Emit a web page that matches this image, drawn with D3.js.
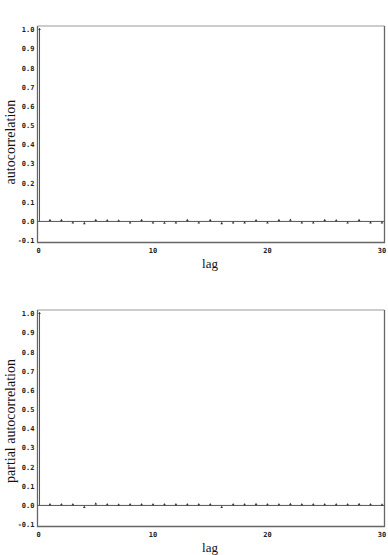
<!DOCTYPE html>
<html>
<head>
<meta charset="utf-8">
<script src="https://cdn.jsdelivr.net/npm/d3@7"></script>
<style>
  body { margin: 0; background: #fff; }
  svg { display: block; }
  .tick-lbl { font-family: "DejaVu Sans Mono", monospace; font-weight: bold; font-size: 7px; fill: #222; }
  .ttl { font-family: "Liberation Serif", "DejaVu Serif", serif; font-size: 13px; fill: #111; }
  .ytl { font-size: 14px; }
</style>
</head>
<body>
<script>
// lags 0..30
var lags = d3.range(0, 31);
var acfValues = [1.0, 0.003, 0.004, -0.002, -0.005, 0.004, 0.002, 0.001, -0.002, 0.004, -0.002,
  -0.003, -0.002, 0.004, -0.002, 0.003, -0.005, -0.002, -0.002, 0.002, -0.002,
  0.004, 0.005, -0.002, -0.002, 0.003, 0.002, -0.002, 0.004, -0.001, -0.002];
var pacfValues = [1.0, 0.002, 0.002, 0.002, -0.004, 0.006, 0.002, 0.001, 0.002, 0.002, 0.002,
  0.002, 0.002, 0.002, 0.002, 0.002, -0.004, 0.002, 0.002, 0.003, 0.002,
  0.002, 0.003, 0.002, 0.002, 0.002, 0.002, 0.002, 0.003, 0.002, 0.001];
var yTicks = [-0.1, 0.0, 0.1, 0.2, 0.3, 0.4, 0.5, 0.6, 0.7, 0.8, 0.9, 1.0];
var xTicks = [0, 10, 20, 30];

var svg = d3.select('body').append('svg').attr('width', 388).attr('height', 555);

function drawPanel(values, top, yTitle, titleY) {
  var left = 37.5, right = 384.5, bottom = top + 216.5;
  var x = d3.scaleLinear().domain([-0.09, 30.22]).range([left, right]);
  var y = d3.scaleLinear().domain([-0.11, 1.02]).range([bottom, top]);
  var g = svg.append('g');

  // frame
  g.append('line').attr('x1', left).attr('x2', right).attr('y1', top).attr('y2', top)
    .attr('stroke', '#bbb').attr('stroke-width', 1.5);
  g.append('path')
    .attr('d', 'M' + left + ',' + top + 'V' + bottom + 'H' + right + 'V' + top)
    .attr('fill', 'none').attr('stroke', '#666').attr('stroke-width', 1.3);

  // zero line
  g.append('line').attr('x1', left).attr('x2', right).attr('y1', y(0)).attr('y2', y(0))
    .attr('stroke', '#555').attr('stroke-width', 1);

  // spikes
  g.selectAll('line.spike').data(lags).enter().append('line')
    .attr('class', 'spike')
    .attr('x1', function(d){ return x(d) + (d === 0 ? 1 : 0); })
    .attr('x2', function(d){ return x(d) + (d === 0 ? 1 : 0); })
    .attr('y1', y(0))
    .attr('y2', function(d, i){ return y(values[i]); })
    .attr('stroke', '#555').attr('stroke-width', 1);

  // markers
  g.selectAll('path.mk').data(lags).enter().append('path')
    .attr('class', 'mk')
    .attr('d', d3.symbol().type(d3.symbolTriangle).size(3))
    .attr('transform', function(d, i){ return 'translate(' + (x(d) + (d === 0 ? 1 : 0)) + ',' + (y(values[i]) + (values[i] < 0 ? 1 : -0.5)) + ')'; })
    .attr('fill', '#333');

  // y tick labels
  g.selectAll('text.yl').data(yTicks).enter().append('text')
    .attr('class', 'tick-lbl')
    .attr('x', 34.5).attr('y', function(d){ return y(d); })
    .attr('dy', '0.35em').attr('text-anchor', 'end')
    .text(function(d){ return d.toFixed(1); });

  // x tick labels
  g.selectAll('text.xl').data(xTicks).enter().append('text')
    .attr('class', 'tick-lbl')
    .attr('x', function(d){ return x(d); }).attr('y', bottom + 8)
    .attr('dy', '0.35em').attr('text-anchor', 'middle')
    .text(function(d){ return d; });

  g.append('text').attr('class', 'ttl')
    .attr('x', 210).attr('y', bottom + 25.5).attr('text-anchor', 'middle')
    .text('lag');

  g.append('text').attr('class', 'ttl ytl')
    .attr('transform', 'translate(15,' + titleY + ') rotate(-90)')
    .attr('text-anchor', 'middle')
    .text(yTitle);
}

drawPanel(acfValues, 26, 'autocorrelation', 142);
drawPanel(pacfValues, 310, 'partial autocorrelation', 421);
</script>
</body>
</html>
